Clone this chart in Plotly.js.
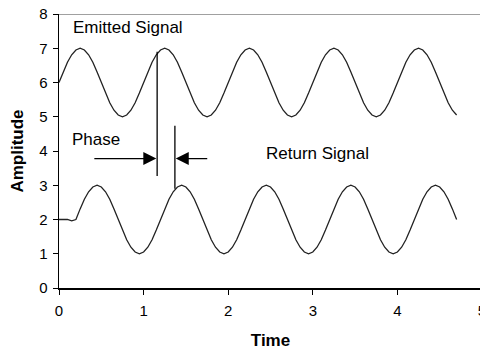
<!DOCTYPE html>
<html><head><meta charset="utf-8">
<script src="https://cdn.plot.ly/plotly-3.0.1.min.js"></script>
<style>html,body{margin:0;padding:0;overflow:hidden;background:#fff;width:480px;height:351px}#c{width:500px;height:351px}</style>
</head><body><div id="c"></div>
<script>
var time = [0,0.05,0.1,0.15,0.2,0.25,0.3,0.35,0.4,0.45,0.5,0.55,0.6,0.65,0.7,0.75,0.8,0.85,0.9,0.95,
1,1.05,1.1,1.15,1.2,1.25,1.3,1.35,1.4,1.45,1.5,1.55,1.6,1.65,1.7,1.75,1.8,1.85,1.9,1.95,
2,2.05,2.1,2.15,2.2,2.25,2.3,2.35,2.4,2.45,2.5,2.55,2.6,2.65,2.7,2.75,2.8,2.85,2.9,2.95,
3,3.05,3.1,3.15,3.2,3.25,3.3,3.35,3.4,3.45,3.5,3.55,3.6,3.65,3.7,3.75,3.8,3.85,3.9,3.95,
4,4.05,4.1,4.15,4.2,4.25,4.3,4.35,4.4,4.45,4.5,4.55,4.6,4.65,4.7];
var emitted = [6.00,6.31,6.59,6.81,6.95,7.00,6.95,6.81,6.59,6.31,6.00,5.69,5.41,5.19,5.05,5.00,5.05,5.19,5.41,5.69,
6.00,6.31,6.59,6.81,6.95,7.00,6.95,6.81,6.59,6.31,6.00,5.69,5.41,5.19,5.05,5.00,5.05,5.19,5.41,5.69,
6.00,6.31,6.59,6.81,6.95,7.00,6.95,6.81,6.59,6.31,6.00,5.69,5.41,5.19,5.05,5.00,5.05,5.19,5.41,5.69,
6.00,6.31,6.59,6.81,6.95,7.00,6.95,6.81,6.59,6.31,6.00,5.69,5.41,5.19,5.05,5.00,5.05,5.19,5.41,5.69,
6.00,6.31,6.59,6.81,6.95,7.00,6.95,6.81,6.59,6.31,6.00,5.69,5.41,5.19,5.05];
var returned = [2.00,2.00,2.00,1.96,
2.00,2.31,2.59,2.81,2.95,3.00,2.95,2.81,2.59,2.31,2.00,1.69,1.41,1.19,1.05,1.00,1.05,1.19,1.41,1.69,
2.00,2.31,2.59,2.81,2.95,3.00,2.95,2.81,2.59,2.31,2.00,1.69,1.41,1.19,1.05,1.00,1.05,1.19,1.41,1.69,
2.00,2.31,2.59,2.81,2.95,3.00,2.95,2.81,2.59,2.31,2.00,1.69,1.41,1.19,1.05,1.00,1.05,1.19,1.41,1.69,
2.00,2.31,2.59,2.81,2.95,3.00,2.95,2.81,2.59,2.31,2.00,1.69,1.41,1.19,1.05,1.00,1.05,1.19,1.41,1.69,
2.00,2.31,2.59,2.81,2.95,3.00,2.95,2.81,2.59,2.31,2.00];
var xTicks = [0,1,2,3,4,5];
var yTicks = [0,1,2,3,4,5,6,7,8];
var labels = {emitted:'Emitted Signal', phase:'Phase', ret:'Return Signal', x:'Time', y:'Amplitude'};

var font = 'Liberation Sans, Arial, sans-serif';
var traces = [
  {x: time, y: emitted, mode:'lines', line:{color:'#222', width:1.3}, hoverinfo:'skip'},
  {x: time, y: returned, mode:'lines', line:{color:'#222', width:1.3}, hoverinfo:'skip'}
];
var layout = {
  width:500, height:351,
  margin:{l:58.5, r:18, t:14, b:62.7},
  showlegend:false,
  paper_bgcolor:'#fff', plot_bgcolor:'#fff',
  font:{family:font, size:15, color:'#000'},
  xaxis:{range:[0,5], tickvals:xTicks, ticks:'outside', ticklen:5, tickcolor:'#000',
    showline:true, linecolor:'#000', linewidth:1.5, showgrid:false, zeroline:false,
    ticklabelstandoff:3,
    tickfont:{size:15}, title:{text:'<b>'+labels.x+'</b>', font:{size:17}, standoff:16}},
  yaxis:{range:[0,8], tickvals:yTicks, ticks:'outside', ticklen:5, tickcolor:'#000',
    showline:true, linecolor:'#000', linewidth:1.5, showgrid:false, zeroline:false,
    ticklabelstandoff:2,
    tickfont:{size:15}, title:{text:'<b>'+labels.y+'</b>', font:{size:17}, standoff:11}},
  shapes:[
    {type:'line', xref:'paper', yref:'y', x0:0, x1:1, y0:8, y1:8, line:{color:'#808080', width:1.3}},
    {type:'line', xref:'x', yref:'y', x0:1.16, x1:1.16, y0:6.9, y1:3.27, line:{color:'#000', width:1.3}},
    {type:'line', xref:'x', yref:'y', x0:1.37, x1:1.37, y0:4.74, y1:2.9, line:{color:'#000', width:1.3}}
  ],
  annotations:[
    {x:0.165, y:7.60, xref:'x', yref:'y', text:labels.emitted, showarrow:false, xanchor:'left', yanchor:'middle', borderpad:0, borderwidth:0, font:{size:17}},
    {x:0.155, y:4.34, xref:'x', yref:'y', text:labels.phase, showarrow:false, xanchor:'left', yanchor:'middle', borderpad:0, borderwidth:0, font:{size:17}},
    {x:2.445, y:3.93, xref:'x', yref:'y', text:labels.ret, showarrow:false, xanchor:'left', yanchor:'middle', borderpad:0, borderwidth:0, font:{size:17}},
    {x:1.15, y:3.78, ax:0.40, ay:3.78, xref:'x', yref:'y', axref:'x', ayref:'y', text:'', showarrow:true, arrowhead:2, arrowsize:2, arrowwidth:1.3, arrowcolor:'#000', standoff:0},
    {x:1.38, y:3.78, ax:1.77, ay:3.78, xref:'x', yref:'y', axref:'x', ayref:'y', text:'', showarrow:true, arrowhead:2, arrowsize:2, arrowwidth:1.3, arrowcolor:'#000', standoff:0}
  ]
};
Plotly.newPlot('c', traces, layout, {staticPlot:true, displayModeBar:false});
</script></body></html>
